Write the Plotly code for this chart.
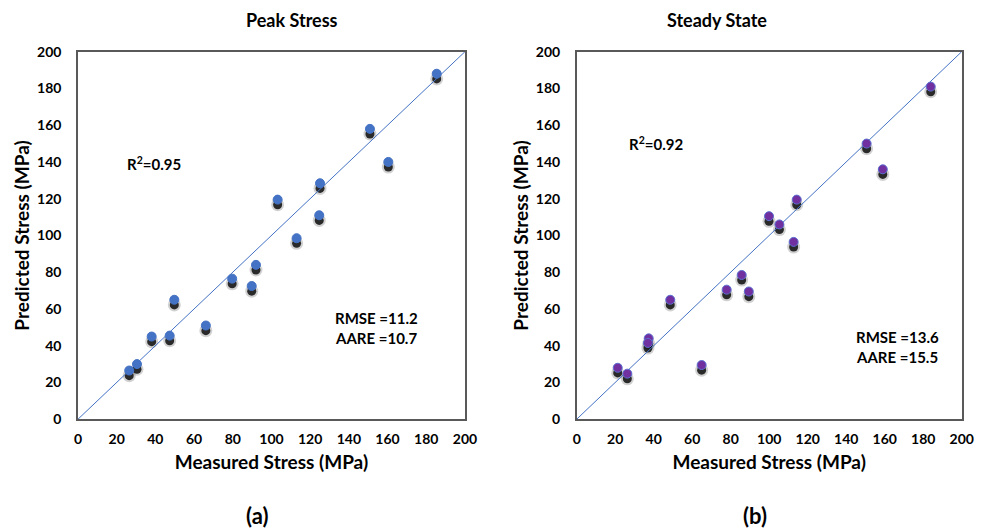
import plotly.graph_objects as go

# Peak stress (a)
peak_measured = [185.4, 150.9, 160.4, 125.1, 103.2, 124.7, 113.0, 92.0, 79.7, 89.8, 49.8, 66.1, 38.1, 47.4, 30.5, 26.5]
peak_predicted = [188.0, 158.0, 140.0, 128.4, 119.5, 111.0, 98.5, 84.0, 76.5, 72.5, 65.0, 51.0, 45.0, 45.5, 30.0, 26.5]

# Steady state (b)
steady_measured = [183.9, 150.6, 159.0, 114.3, 99.9, 105.3, 112.7, 85.7, 77.9, 89.4, 48.6, 37.4, 37.0, 64.9, 21.3, 26.3]
steady_predicted = [181.0, 150.0, 136.0, 119.5, 110.5, 106.0, 96.5, 78.5, 70.5, 69.5, 65.0, 44.0, 41.5, 29.5, 28.0, 24.8]

ticks = [0, 20, 40, 60, 80, 100, 120, 140, 160, 180, 200]
diag = [0, 200]

FONT = "Lato"
BLUE = "#4472C4"
PURPLE = "#7030A0"
SHADOW = 2.8  # shadow offset in data units

fig = go.Figure()

def add_panel(xs, ys, xa, ya, color, line_color):
    # soft shadow
    fig.add_trace(go.Scatter(x=xs, y=[v - SHADOW for v in ys], mode="markers",
                             marker=dict(size=13, color="rgba(0,0,0,0.18)", line=dict(width=0)),
                             xaxis=xa, yaxis=ya, showlegend=False, hoverinfo="skip"))
    fig.add_trace(go.Scatter(x=xs, y=[v - SHADOW for v in ys], mode="markers",
                             marker=dict(size=9, color="rgba(0,0,0,0.8)", line=dict(width=0)),
                             xaxis=xa, yaxis=ya, showlegend=False, hoverinfo="skip"))
    fig.add_trace(go.Scatter(x=diag, y=diag, mode="lines",
                             line=dict(color=BLUE, width=1),
                             xaxis=xa, yaxis=ya, showlegend=False, hoverinfo="skip"))
    fig.add_trace(go.Scatter(x=xs, y=ys, mode="markers",
                             marker=dict(size=9, color=color, line=dict(width=1, color=line_color)),
                             xaxis=xa, yaxis=ya, showlegend=False))

add_panel(peak_measured, peak_predicted, "x", "y", BLUE, BLUE)
add_panel(steady_measured, steady_predicted, "x2", "y2", PURPLE, "#5B6FD0")

ax_common = dict(range=[0, 200], tickvals=ticks, ticktext=[str(t) for t in ticks],
                 showgrid=False, zeroline=False, showline=True, linecolor="#595959",
                 linewidth=1.5, mirror=True, ticks="", automargin=False,
                 tickfont=dict(family=FONT, size=14, color="#000000", weight="bold"))

xtitle = dict(text="<b>Measured Stress (MPa)</b>", font=dict(family=FONT, size=19, color="#000"), standoff=10)
ytitle = dict(text="<b>Predicted Stress (MPa)</b>", font=dict(family=FONT, size=19, color="#000"), standoff=2)

ydom = [0.209, 0.9025]
fig.update_layout(
    width=988, height=530, margin=dict(l=0, r=0, t=0, b=0, autoexpand=False),
    paper_bgcolor="white", plot_bgcolor="white",
    xaxis=dict(domain=[0.0789, 0.4706], anchor="y", **ax_common, title=xtitle, ticklabelstandoff=6),
    yaxis=dict(domain=ydom, anchor="x", **ax_common, title=ytitle, ticklabelstandoff=12),
    xaxis2=dict(domain=[0.5837, 0.9734], anchor="y2", **ax_common, title=xtitle, ticklabelstandoff=6),
    yaxis2=dict(domain=ydom, anchor="x2", **ax_common, title=ytitle, ticklabelstandoff=12),
)

tf = dict(family=FONT, size=15, color="#000")
anns = [
    dict(text="<b>Peak Stress</b>", x=0.2467, y=0.962, xref="paper", yref="paper", showarrow=False,
         yanchor="middle", font=dict(family=FONT, size=18, color="#000")),
    dict(text="<b>Steady State</b>", x=0.7785, y=0.962, xref="paper", yref="paper", showarrow=False,
         yanchor="middle", font=dict(family=FONT, size=18, color="#000")),
    dict(text="<b>(a)</b>", x=0.2467, y=0.028, xref="paper", yref="paper", showarrow=False,
         yanchor="middle", font=dict(family=FONT, size=22, color="#000")),
    dict(text="<b>(b)</b>", x=0.7785, y=0.028, xref="paper", yref="paper", showarrow=False,
         yanchor="middle", font=dict(family=FONT, size=22, color="#000")),
    dict(text="<b>R<sup>2</sup>=0.95</b>", x=39.3, y=139, xref="x", yref="y", showarrow=False, font=tf),
    dict(text="<b>R<sup>2</sup>=0.92</b>", x=41.2, y=150, xref="x2", yref="y2", showarrow=False, font=tf),
    dict(text="<b>RMSE =11.2</b>", x=132, y=55, xref="x", yref="y", showarrow=False, xanchor="left", font=tf),
    dict(text="<b>AARE =10.7</b>", x=132, y=44, xref="x", yref="y", showarrow=False, xanchor="left", font=tf),
    dict(text="<b>RMSE =13.6</b>", x=144, y=45, xref="x2", yref="y2", showarrow=False, xanchor="left", font=tf),
    dict(text="<b>AARE =15.5</b>", x=144, y=34, xref="x2", yref="y2", showarrow=False, xanchor="left", font=tf),
]
fig.update_layout(annotations=anns)

fig.write_html("out.html")
